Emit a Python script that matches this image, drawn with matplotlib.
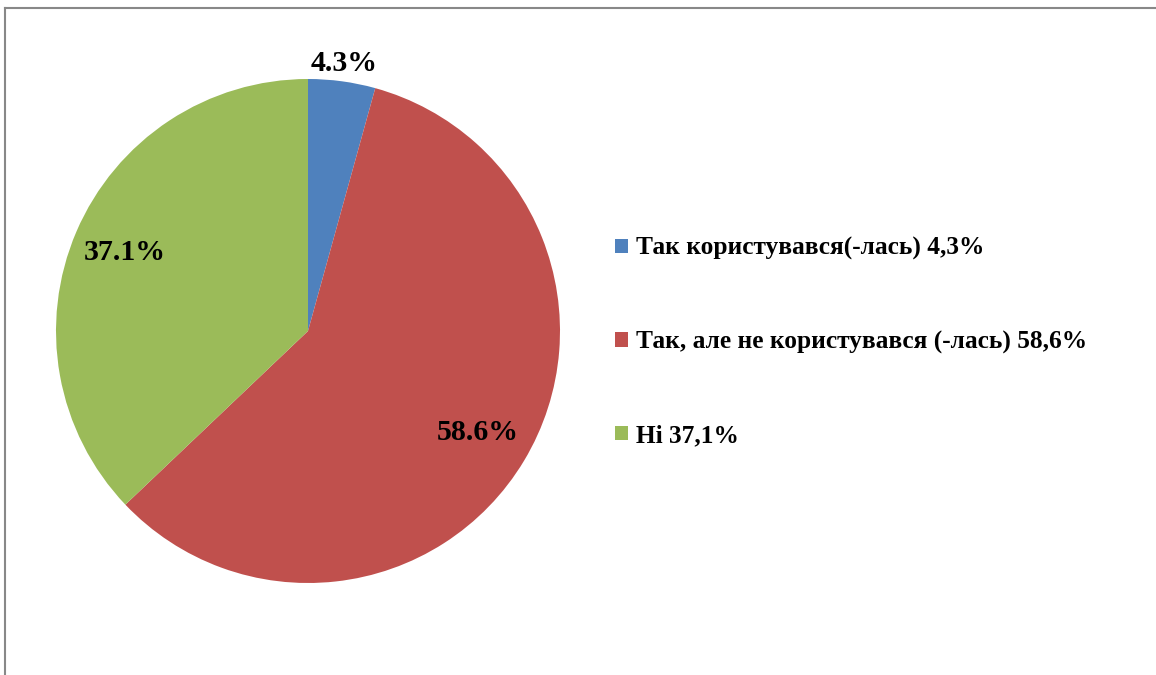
import numpy as np
import matplotlib.pyplot as plt
from matplotlib.lines import Line2D

plt.rcParams['font.family'] = ['Liberation Serif', 'DejaVu Serif']
plt.rcParams['font.weight'] = 'bold'

shares = [4.3, 58.6, 37.1]
pct_labels = ['4.3%', '58.6%', '37.1%']
legend_labels = ['Так користувався(-лась) 4,3%',
                 'Так, але не користувався (-лась) 58,6%',
                 'Ні 37,1%']
colors = ['#4F81BD', '#C0504D', '#9BBB59']
label_dist = [1.07, 0.785, 0.79]

fig = plt.figure(figsize=(11.56, 6.75), dpi=100)
ax = fig.add_axes([56/1156, 92/675, 504/1156, 504/675])
wedges, _ = ax.pie(shares, colors=colors, startangle=90, counterclock=False,
                   wedgeprops=dict(linewidth=0))
ax.set_aspect('equal')
ax.set_xlim(-1, 1)
ax.set_ylim(-1, 1)

for w, lab, d in zip(wedges, pct_labels, label_dist):
    mid = np.deg2rad((w.theta1 + w.theta2) / 2)
    ax.text(d*np.cos(mid), d*np.sin(mid), lab, ha='center', va='center',
            fontsize=21.5, fontweight='bold', clip_on=False)

fig.legend(wedges, legend_labels, loc='center left',
           bbox_to_anchor=(615/1156, (675-342)/675), frameon=False,
           prop=dict(size=18.3, weight='bold'), handlelength=0.52, handleheight=0.52,
           handletextpad=0.3, labelspacing=2.76, borderpad=0, borderaxespad=0)

# outer frame (only top and left visible)
fig.add_artist(Line2D([5/1156, 1], [1-8/675, 1-8/675], color='#888888', lw=1.5, transform=fig.transFigure))
fig.add_artist(Line2D([5/1156, 5/1156], [0, 1-8/675], color='#888888', lw=1.5, transform=fig.transFigure))

fig.savefig('out.png', dpi=100)
